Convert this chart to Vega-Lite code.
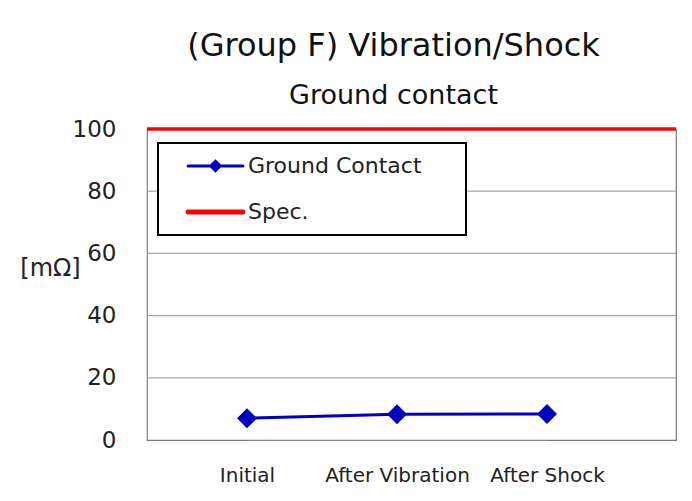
{
  "$schema": "https://vega.github.io/schema/vega-lite/v6.json",
  "width": 529,
  "height": 311,
  "autosize": {"type": "none"},
  "padding": {"left": 147, "top": 129, "right": 16, "bottom": 61},
  "background": "white",
  "title": {
    "text": "(Group F) Vibration/Shock",
    "subtitle": "Ground contact",
    "font": "DejaVu Sans",
    "fontSize": 32,
    "fontWeight": "normal",
    "color": "#111",
    "subtitleFont": "DejaVu Sans",
    "subtitleFontSize": 27,
    "subtitleColor": "#111",
    "subtitlePadding": 20,
    "anchor": "middle",
    "dx": -18,
    "offset": 8
  },
  "config": {
    "view": {"stroke": "#777", "strokeWidth": 1.2},
    "font": "DejaVu Sans"
  },
  "datasets": {
    "gc": [
      {"stage": "Initial", "value": 7.0, "series": "Ground Contact"},
      {"stage": "After Vibration", "value": 8.3, "series": "Ground Contact"},
      {"stage": "After Shock", "value": 8.4, "series": "Ground Contact"}
    ],
    "spec": [
      {"value": 100, "series": "Spec."}
    ],
    "grid": [
      {"value": 20}, {"value": 40}, {"value": 60}, {"value": 80}
    ]
  },
  "layer": [
    {
      "data": {"name": "grid"},
      "mark": {"type": "rule", "strokeWidth": 1.2, "color": "#a6a6a6"},
      "encoding": {
        "y": {"field": "value", "type": "quantitative"}
      }
    },
    {
      "data": {"name": "spec"},
      "mark": {"type": "rule", "strokeWidth": 3.5},
      "encoding": {
        "y": {"field": "value", "type": "quantitative"},
        "color": {"field": "series", "type": "nominal"}
      }
    },
    {
      "data": {"name": "gc"},
      "mark": {"type": "line", "strokeWidth": 3, "point": {"shape": "diamond", "size": 400, "filled": true}},
      "encoding": {
        "x": {
          "field": "stage",
          "type": "ordinal",
          "sort": ["Initial", "After Vibration", "After Shock"],
          "scale": {"type": "point", "range": [100, 400], "padding": 0},
          "axis": {
            "title": null,
            "ticks": false,
            "domain": true,
            "domainColor": "#888",
            "grid": false,
            "labelAngle": 0,
            "labelFontSize": 20,
            "labelColor": "#222",
            "labelPadding": 25,
            "labelFont": "DejaVu Sans"
          }
        },
        "y": {
          "field": "value",
          "type": "quantitative",
          "scale": {"domain": [0, 100]},
          "axis": {
            "values": [0, 20, 40, 60, 80, 100],
            "grid": false,
            "title": "[mΩ]",
            "titleAngle": 0,
            "titleX": -97,
            "titleY": 139,
            "titleAlign": "center",
            "titleBaseline": "middle",
            "titleFontSize": 24,
            "titleFontWeight": "normal",
            "titleColor": "#222",
            "titleFont": "DejaVu Sans",
            "ticks": false,
            "domainColor": "#888",
            "labelFontSize": 23,
            "labelColor": "#222",
            "labelPadding": 31,
            "labelFont": "DejaVu Sans"
          }
        },
        "color": {
          "field": "series",
          "type": "nominal",
          "scale": {"domain": ["Ground Contact", "Spec."], "range": ["#0000c0", "#ff0000"]},
          "legend": {
            "title": null,
            "orient": "none",
            "legendX": 11,
            "legendY": 14,
            "strokeColor": "#000",
            "fillColor": "white",
            "padding": 12,
            "labelFontSize": 22,
            "labelColor": "#222",
            "labelFont": "DejaVu Sans",
            "labelLimit": 0,
            "labelOffset": 21.5,
            "labelExpr": "datum.label === 'Ground Contact' ? 'Ground Contact\u2800\u2800' : datum.label",
            "symbolSize": 3000,
            "symbolOffset": 34.5,
            "rowPadding": 24,
            "encode": {
              "legend": {"update": {"strokeWidth": {"value": 2}}},
              "symbols": {
                "update": {
                  "shape": {"signal": "datum.value === 'Spec.' ? 'M-1,0H1' : 'M-1,0H1M0,-0.17L0.17,0L0,0.17L-0.17,0Z'"},
                  "strokeWidth": {"signal": "datum.value === 'Spec.' ? 5 : 3"},
                  "fill": {"signal": "datum.value === 'Spec.' ? 'transparent' : '#0000c0'"},
                  "stroke": {"signal": "datum.value === 'Spec.' ? '#ff0000' : '#0000c0'"},
                  "strokeCap": {"value": "round"},
                  "opacity": {"value": 1}
                }
              }
            }
          }
        }
      }
    }
  ]
}
